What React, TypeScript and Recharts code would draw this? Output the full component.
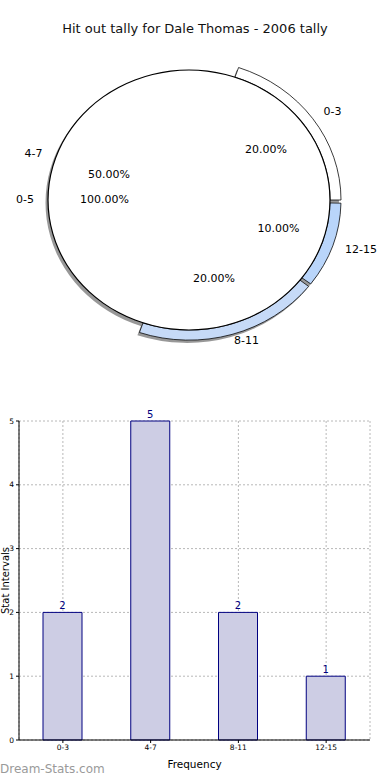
import React from 'react';
import { PieChart, Pie, Cell, BarChart, Bar, XAxis, YAxis, CartesianGrid, LabelList } from 'recharts';

// pie data: outer tally split into stat intervals, inner is the whole range
const sliceNames = ['0-3', '4-7', '8-11', '12-15'];
const sliceValues = [2, 5, 2, 1];
const sliceExplode = [10, 0, 4, 10];
const innerNames = ['0-5'];
const innerValues = [10];

// bar data
const barCategories = ['0-3', '4-7', '8-11', '12-15'];
const barCounts = [2, 5, 2, 1];
const yTicks = [0, 1, 2, 3, 4, 5];

const ringColors = ['#ffffff', 'none', '#c6daf7', '#b9d5fa'];
const FONT = '"DejaVu Sans", Verdana, sans-serif';
const R = 141;
const SY = 0.922; // pie is squashed into an ellipse
const RAD = Math.PI / 180;

const pieData = sliceNames.map((name, i) => ({ name, value: sliceValues[i] }));
const innerData = innerNames.map((name, i) => ({ name, value: innerValues[i] }));
const barData = barCategories.map((name, i) => ({ name, count: barCounts[i] }));

function PieText({ x, y, anchor, children }: { x: number; y: number; anchor: string; children: React.ReactNode }) {
  return (
    <text
      transform={`translate(${x},${y}) scale(1,${1 / SY})`}
      textAnchor={anchor}
      dominantBaseline="central"
      fontSize={11}
      fontFamily={FONT}
      fill="#000"
    >
      {children}
    </text>
  );
}

function makeLabel(explode: number[]) {
  return (props: any) => {
    const { cx, cy, midAngle, percent, name, index } = props;
    const e = explode[index] || 0;
    const cos = Math.cos(-midAngle * RAD);
    const sin = Math.sin(-midAngle * RAD);
    const lx = cx + (1.1 * R + e) * cos;
    const ly = cy + (1.1 * R + e) * sin;
    const px = cx + (0.6 * R + e) * cos;
    const py = cy + (0.6 * R + e) * sin;
    return (
      <g>
        <PieText x={lx} y={ly} anchor={lx > cx ? 'start' : 'end'}>{name}</PieText>
        <PieText x={px} y={py} anchor="middle">{(percent * 100).toFixed(2) + '%'}</PieText>
      </g>
    );
  };
}

export default function App() {
  return (
    <div style={{ position: 'absolute', left: 0, top: 0, width: 390, height: 780, background: '#fff', fontFamily: FONT }}>
      <div style={{ position: 'absolute', top: 21, left: 0, width: 390, textAlign: 'center', fontSize: 13, color: '#111' }}>
        Hit out tally for Dale Thomas - 2006 tally
      </div>

      <div style={{ position: 'absolute', top: 0, left: 0, transform: `scaleY(${SY})`, transformOrigin: '189px 200px' }}>
        <PieChart width={390} height={370} margin={{ top: 0, right: 0, bottom: 0, left: 0 }}>
          {/* shadows */}
          <Pie data={innerData} dataKey="value" nameKey="name" cx={187} cy={203} outerRadius={R + 0.5}
            fill="#444" fillOpacity={0.55} stroke="none" isAnimationActive={false} />
          <Pie data={pieData} dataKey="value" nameKey="name" cx={187} cy={203} innerRadius={R} outerRadius={R + 11}
            paddingAngle={1.3} stroke="none" isAnimationActive={false}>
            {pieData.map((d, i) => (
              <Cell key={d.name} fill={i === 1 ? 'none' : '#444'} fillOpacity={0.55} />
            ))}
          </Pie>
          {/* exploded outer wedges */}
          <Pie data={pieData} dataKey="value" nameKey="name" cx={189} cy={200} innerRadius={R} outerRadius={R + 11}
            paddingAngle={1.3} labelLine={false} label={makeLabel(sliceExplode)} isAnimationActive={false}>
            {pieData.map((d, i) => (
              <Cell key={d.name} fill={ringColors[i]} stroke={i === 1 ? 'none' : '#000'} strokeWidth={0.8} />
            ))}
          </Pie>
          {/* whole range */}
          <Pie data={innerData} dataKey="value" nameKey="name" cx={189} cy={200} outerRadius={R}
            fill="#fff" stroke="none" labelLine={false} label={makeLabel([0])} isAnimationActive={false} />
          <Pie data={innerData} dataKey="value" nameKey="name" cx={189} cy={200} innerRadius={R - 0.6} outerRadius={R + 0.6}
            fill="#000" stroke="none" isAnimationActive={false} />
        </PieChart>
      </div>

      <div style={{ position: 'absolute', top: 400, left: 0 }}>
        <BarChart width={390} height={380} data={barData} margin={{ top: 21, right: 20, left: 0, bottom: 10 }}>
          <CartesianGrid stroke="#b8b8b8" strokeDasharray="2 2" />
          <XAxis dataKey="name" height={30} tick={{ fontSize: 7.5, fill: '#000', fontFamily: FONT }}
            tickSize={3} tickLine={{ stroke: '#000' }} axisLine={{ stroke: '#000' }}
            label={{ value: 'Frequency', position: 'insideBottom', offset: 2, fontSize: 10.5, fill: '#000', fontFamily: FONT }} />
          <XAxis xAxisId="top" orientation="top" dataKey="name" height={0} tick={false} tickLine={false} axisLine={{ stroke: '#000' }} />
          <YAxis width={19} domain={[0, 5]} ticks={yTicks} tick={{ fontSize: 7.5, fill: '#000', fontFamily: FONT }}
            tickSize={3} tickLine={{ stroke: '#000' }} axisLine={{ stroke: '#000' }}
            label={{ value: 'Stat Intervals', angle: -90, position: 'center', dx: -4, fontSize: 10, fill: '#000', fontFamily: FONT }} />
          <YAxis yAxisId="right" orientation="right" width={0} tick={false} tickLine={false} axisLine={{ stroke: '#000' }} />
          <Bar dataKey="count" fill="#cdcde4" stroke="#000080" strokeWidth={1} barSize={39} isAnimationActive={false}>
            <LabelList dataKey="count" position="top" offset={3} fill="#000080" fontSize={10} fontFamily={FONT} />
          </Bar>
        </BarChart>
      </div>

      <div style={{ position: 'absolute', left: 0, top: 762, fontSize: 12, color: '#9a9a9a', fontFamily: FONT }}>
        Dream-Stats.com
      </div>
    </div>
  );
}
